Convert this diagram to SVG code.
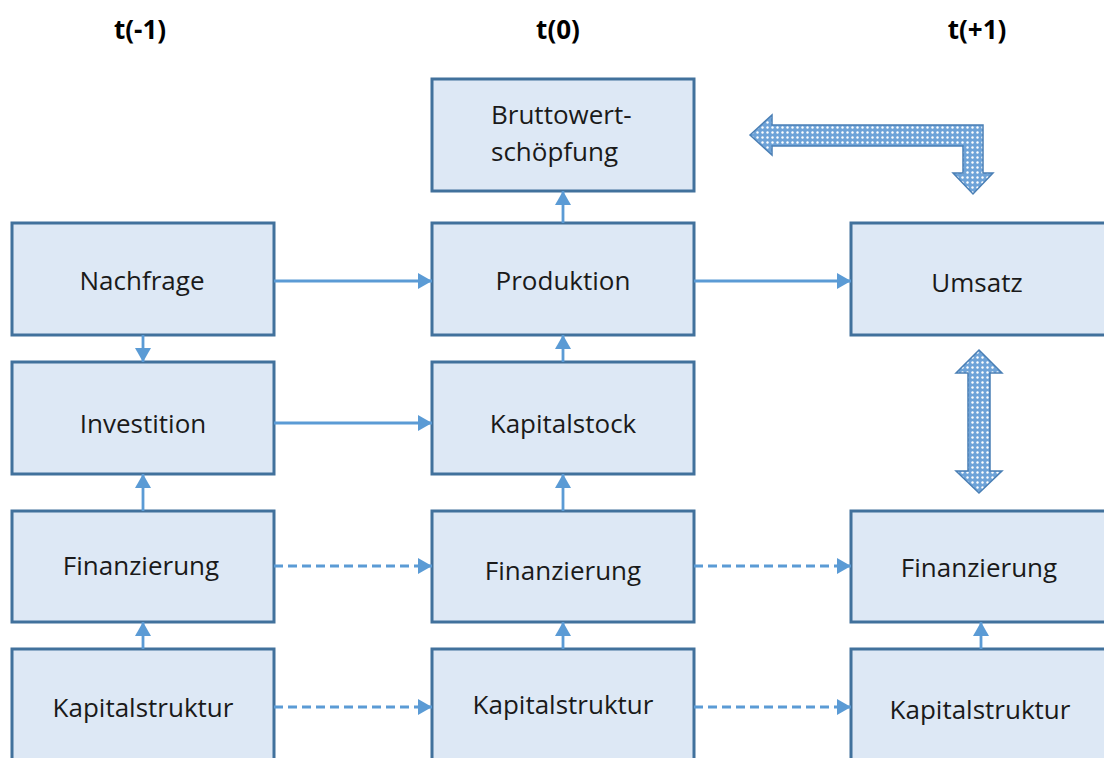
<svg xmlns="http://www.w3.org/2000/svg" width="1104" height="758" viewBox="0 0 1104 758">
<style>
.box{fill:#dde8f5;stroke:#41719c;stroke-width:3}
.lbl{font-family:"Open Sans","Liberation Sans",sans-serif;font-size:26px;fill:#1a1a1a;text-anchor:middle}
.hd{font-family:"Open Sans","Liberation Sans",sans-serif;font-size:26px;font-weight:bold;fill:#000;text-anchor:middle}
.con{fill:none;stroke:#5b9bd5;stroke-width:2.8;marker-end:url(#ah)}
.dash{stroke-dasharray:9 5}
.blk{fill:url(#dots);stroke:#4a7fb5;stroke-width:1.5}
</style>
<defs>
<marker id="ah" viewBox="0 0 14 16" refX="14" refY="8" markerWidth="14" markerHeight="16" markerUnits="userSpaceOnUse" orient="auto">
<path d="M0,0 L14,8 L0,16 Z" fill="#5b9bd5"/>
</marker>
<pattern id="dots" width="5" height="5" patternUnits="userSpaceOnUse">
<rect width="5" height="5" fill="#6ea3d8"/>
<circle cx="2.5" cy="2.5" r="1.2" fill="#ffffff"/>
</pattern>
</defs>
<g id="headers">
<text class="hd" x="140" y="39">t(-1)</text>
<text class="hd" x="558" y="39">t(0)</text>
<text class="hd" x="977" y="39">t(+1)</text>
</g>
<g id="n-nachfrage"><rect class="box" x="12" y="223" width="262" height="112"/><text class="lbl" x="142" y="290">Nachfrage</text></g>
<g id="n-investition"><rect class="box" x="12" y="362" width="262" height="112"/><text class="lbl" x="143" y="433">Investition</text></g>
<g id="n-fin-1"><rect class="box" x="12" y="511" width="262" height="111"/><text class="lbl" x="141" y="575">Finanzierung</text></g>
<g id="n-kap-1"><rect class="box" x="12" y="649" width="262" height="120"/><text class="lbl" x="143" y="717">Kapitalstruktur</text></g>
<g id="n-bws"><rect class="box" x="432" y="79" width="262" height="112"/><text class="lbl" x="491" y="124" style="text-anchor:start">Bruttowert-</text><text class="lbl" x="491" y="161" style="text-anchor:start">schöpfung</text></g>
<g id="n-produktion"><rect class="box" x="432" y="223" width="262" height="112"/><text class="lbl" x="563" y="290">Produktion</text></g>
<g id="n-kapitalstock"><rect class="box" x="432" y="362" width="262" height="112"/><text class="lbl" x="563" y="433">Kapitalstock</text></g>
<g id="n-fin0"><rect class="box" x="432" y="511" width="262" height="111"/><text class="lbl" x="563" y="580">Finanzierung</text></g>
<g id="n-kap0"><rect class="box" x="432" y="649" width="262" height="120"/><text class="lbl" x="563" y="714">Kapitalstruktur</text></g>
<g id="n-umsatz"><rect class="box" x="851" y="223" width="262" height="112"/><text class="lbl" x="977" y="292">Umsatz</text></g>
<g id="n-fin1"><rect class="box" x="851" y="511" width="262" height="111"/><text class="lbl" x="979" y="577">Finanzierung</text></g>
<g id="n-kap1"><rect class="box" x="851" y="649" width="262" height="120"/><text class="lbl" x="980" y="719">Kapitalstruktur</text></g>
<g id="connectors">
<line class="con" x1="274" y1="281" x2="432" y2="281"/>
<line class="con" x1="694" y1="281" x2="851" y2="281"/>
<line class="con" x1="274" y1="423" x2="432" y2="423"/>
<line class="con" x1="143" y1="335" x2="143" y2="362"/>
<line class="con" x1="143" y1="511" x2="143" y2="474"/>
<line class="con" x1="143" y1="649" x2="143" y2="622"/>
<line class="con" x1="563" y1="223" x2="563" y2="191"/>
<line class="con" x1="563" y1="362" x2="563" y2="335"/>
<line class="con" x1="563" y1="511" x2="563" y2="474"/>
<line class="con" x1="563" y1="649" x2="563" y2="622"/>
<line class="con" x1="981" y1="649" x2="981" y2="622"/>
<line class="con dash" x1="274" y1="566" x2="432" y2="566"/>
<line class="con dash" x1="694" y1="566" x2="851" y2="566"/>
<line class="con dash" x1="274" y1="707" x2="432" y2="707"/>
<line class="con dash" x1="694" y1="707" x2="851" y2="707"/>
<polygon class="blk" points="750,135 772,115 772,125 983,125 983,173 993,173 973,194 953,173 963,173 963,146 772,146 772,155"/>
<polygon class="blk" points="979,350 1002,373 990,373 990,471 1002,471 979,493 956,471 968,471 968,373 956,373"/>
</g>
</svg>
